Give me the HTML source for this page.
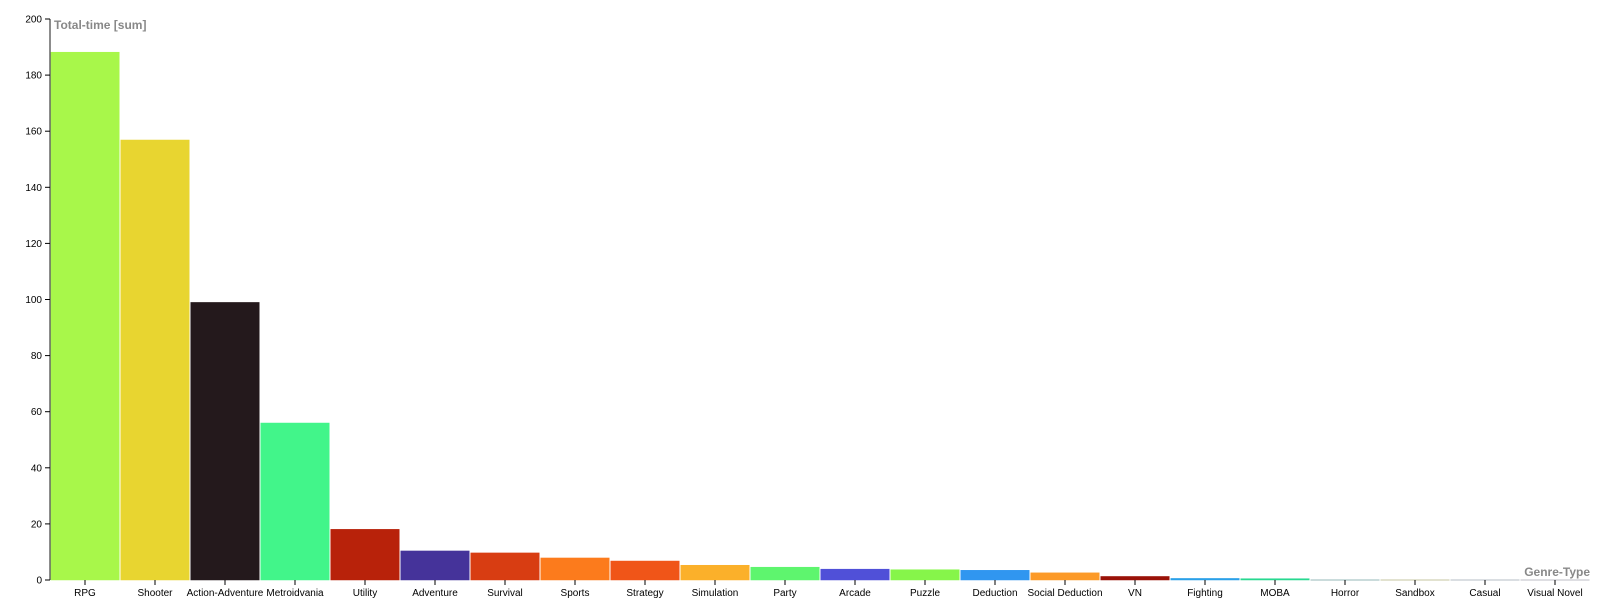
<!DOCTYPE html>
<html><head><meta charset="utf-8"><style>
body{margin:0;background:#fff;}
svg{display:block;font-family:"Liberation Sans",Arial,sans-serif;}
</style></head><body>
<svg id="chart" width="1600" height="600"></svg>
<script>
const categories=["RPG","Shooter","Action-Adventure","Metroidvania","Utility","Adventure","Survival","Sports","Strategy","Simulation","Party","Arcade","Puzzle","Deduction","Social Deduction","VN","Fighting","MOBA","Horror","Sandbox","Casual","Visual Novel"];
const values=[188.7,157.4,99.5,56.5,18.6,10.9,10.2,8.4,7.3,5.8,5.1,4.4,4.2,4.0,3.1,1.8,1.1,1.0,0.4,0.3,0.2,0.1];
const colors=["#a8f74a","#e8d530","#24191c","#42f58a","#b8220a","#45339a","#d83d12","#fc7b1c","#f05518","#fbb02a","#5ef56e","#5050d8","#86f54a","#3096f0","#fc9a28","#9a1208","#2aa0e8","#28d890","#2a7070","#8a8a40","#6a7a8a","#7a7a8a"];
const yTicks=[0,20,40,60,80,100,120,140,160,180,200];
const NS="http://www.w3.org/2000/svg";
const svg=document.getElementById('chart');
const x0=50,x1=1590,y0=580,y1=19,yMax=200;
const band=(x1-x0)/categories.length;
const xs=i=>x0+i*band;
const ys=v=>y0-(v/yMax)*(y0-y1);
function mk(t,a){const e=document.createElementNS(NS,t);for(const k in a)e.setAttribute(k,a[k]);svg.appendChild(e);return e;}
const xa=mk('line',{x1:x0,y1:y0,x2:x1,y2:y0,stroke:'#666','stroke-width':1.5});


values.forEach((v,i)=>{
  const h=Math.max(y0-ys(v),1.5);
  const r=mk('rect',{x:xs(i),y:y0-h+0.75,width:band,height:h,fill:colors[i],stroke:'#fff','stroke-width':1});
  
  
});
const ya=mk('line',{x1:x0,y1:y1,x2:x0,y2:y0,stroke:'#666','stroke-width':1.5});


yTicks.forEach(t=>{
  mk('line',{x1:x0-5,y1:ys(t),x2:x0,y2:ys(t),stroke:'#000'});
  const tx=mk('text',{x:x0-8,y:ys(t)+3.5,'text-anchor':'end','font-size':10,fill:'#000'});
  tx.textContent=t;
  
  
});
categories.forEach((c,i)=>{
  const cx=xs(i)+band/2;
  mk('line',{x1:cx,y1:y0,x2:cx,y2:y0+5,stroke:'#000'});
  const tx=mk('text',{x:cx,y:y0+16,'text-anchor':'middle','font-size':10,fill:'#000'});
  tx.textContent=c;
  
  
});
const yt=mk('text',{x:54,y:29,'font-size':12,'font-weight':'bold',fill:'#888'});
yt.textContent='Total-time [sum]';


const xt=mk('text',{x:1590,y:576,'text-anchor':'end','font-size':12,'font-weight':'bold',fill:'#888'});
xt.textContent='Genre-Type';


</script>
</body></html>
